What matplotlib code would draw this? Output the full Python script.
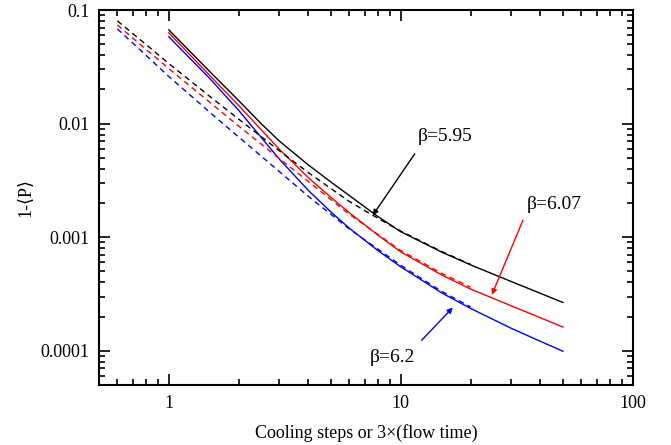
import matplotlib
matplotlib.use("Agg")
import matplotlib.pyplot as plt
from matplotlib.ticker import FuncFormatter, LogLocator, NullFormatter

plt.rcParams['font.family'] = ['Liberation Serif', 'DejaVu Serif']

# cooling / flow curves (solid), x = steps
x_solid = [1, 1.5, 2, 2.5, 3, 4, 5, 6, 8, 10, 15, 20, 30, 40, 50]
p595_solid = [0.0669, 0.02877, 0.01596, 0.00999, 0.0070, 0.004318, 0.003056, 0.002325,
              0.00151, 0.001117, 0.000739, 0.00057, 0.000406, 0.00032, 0.000266]
p607_solid = [0.063, 0.02656, 0.01443, 0.008835, 0.005916, 0.003328, 0.002237, 0.001641,
              0.001036, 0.000741, 0.000465, 0.000349, 0.000248, 0.000195, 0.0001615]
p620_solid = [0.05809, 0.02499, 0.01309, 0.007575, 0.004846, 0.002574, 0.001666, 0.0012,
              0.000757, 0.000548, 0.0003234, 0.0002357, 0.0001572, 0.000121, 0.0000989]

# dashed curves
x_dash = [0.6, 0.8, 1, 1.5, 2, 3, 4, 5, 6, 8, 10, 15, 20]
p595_dash = [0.0802, 0.04946, 0.03377, 0.01738, 0.01095, 0.005752, 0.003695, 0.002679,
             0.002062, 0.00146, 0.00113, 0.000748, 0.000575]
p607_dash = [0.07396, 0.04472, 0.03053, 0.01541, 0.009511, 0.004897, 0.003084, 0.00214,
             0.00159, 0.00105, 0.000762, 0.00048, 0.000362]
p620_dash = [0.06825, 0.03966, 0.02599, 0.0126, 0.007622, 0.00377, 0.002281, 0.001589,
             0.00118, 0.00078, 0.000565, 0.000333, 0.000243]

fig = plt.figure(figsize=(6.71, 4.45), dpi=100)
ax = fig.add_axes([0.1475, 0.135, 0.7955, 0.8425])

ax.plot(x_solid, p595_solid, c="black", lw=1.0)
ax.plot(x_solid, p607_solid, c="red", lw=1.0)
ax.plot(x_solid, p620_solid, c="blue", lw=1.0)
ax.plot(x_dash, p595_dash, c="black", lw=1.0, ls=(0, (4, 3)))
ax.plot(x_dash, p607_dash, c="red", lw=1.0, ls=(0, (4, 3)))
ax.plot(x_dash, p620_dash, c="blue", lw=1.0, ls=(0, (4, 3)))

ax.set_xscale("log")
ax.set_yscale("log")
ax.set_xlim(0.5, 100)
ax.set_ylim(5e-5, 0.1)

fmt = FuncFormatter(lambda v, pos: ("%.10f" % v).rstrip("0").rstrip(".") if v < 1 else "%d" % v)
ax.xaxis.set_major_formatter(fmt)
ax.yaxis.set_major_formatter(fmt)
ax.xaxis.set_minor_formatter(NullFormatter())
ax.yaxis.set_minor_formatter(NullFormatter())
ax.xaxis.set_minor_locator(LogLocator(base=10, subs=range(2, 10)))
ax.yaxis.set_minor_locator(LogLocator(base=10, subs=range(2, 10)))

ax.tick_params(which="both", direction="in", top=True, right=True, labelsize=13, width=1.2)
ax.tick_params(which="major", length=8, pad=7)
ax.tick_params(which="minor", length=4)
for s in ax.spines.values():
    s.set_linewidth(1.5)

ax.set_xlabel("Cooling steps or 3×(flow time)", fontsize=13, labelpad=9)
ax.set_ylabel("1-⟨P⟩", fontsize=13, labelpad=4)

arrow = dict(arrowstyle="-|>", lw=1.0, mutation_scale=8, shrinkA=0, shrinkB=0)
ax.annotate("", xy=(7.57, 0.001556), xytext=(11.49, 0.00542),
            arrowprops=dict(arrow, color="black"))
ax.text(15.5, 0.00762, "β=5.95", fontsize=14, ha="center", va="center")
ax.annotate("", xy=(24.7, 0.000311), xytext=(33.6, 0.001406),
            arrowprops=dict(arrow, color="red"))
ax.text(46.1, 0.00194, "β=6.07", fontsize=14, ha="center", va="center")
ax.annotate("", xy=(16.75, 0.00024), xytext=(12.3, 0.0001236),
            arrowprops=dict(arrow, color="blue"))
ax.text(9.24, 0.0000877, "β=6.2", fontsize=14, ha="center", va="center")

fig.savefig("out.png", dpi=100)
